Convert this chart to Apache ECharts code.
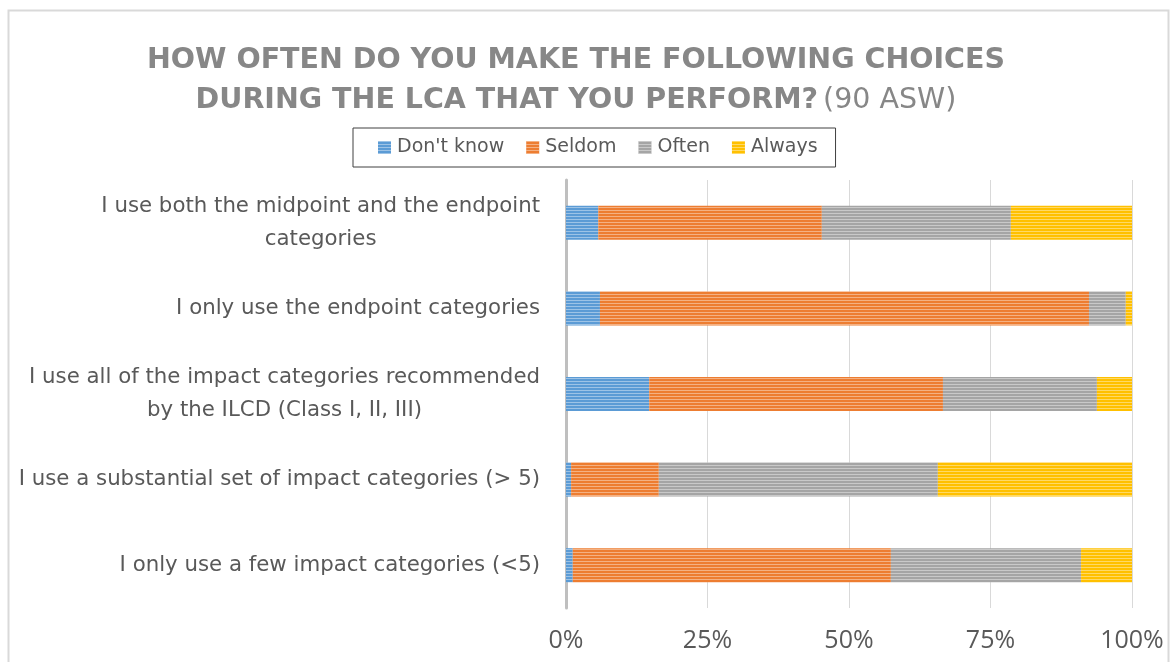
<!DOCTYPE html>
<html>
<head>
<meta charset="utf-8">
<script src="https://cdn.jsdelivr.net/npm/echarts@6/dist/echarts.min.js"></script>
<style>
  html, body { margin: 0; padding: 0; background: #fff; }
  #chart { width: 1171px; height: 662px; }
</style>
</head>
<body>
<div id="chart"></div>
<script>
// categories, top to bottom
var categories = [
  'I use both the midpoint and the endpoint\ncategories',
  'I only use the endpoint categories',
  'I use all of the impact categories recommended\nby the ILCD (Class I, II, III)',
  'I use a substantial set of impact categories (> 5)',
  'I only use a few impact categories (<5)'
];

// share of answers (%)
var dontKnow = [5.7, 6.0, 14.7, 0.9, 1.2];
var seldom = [39.5, 86.4, 51.9, 15.5, 56.2];
var often = [33.4, 6.5, 27.2, 49.3, 33.6];
var always = [21.4, 1.1, 6.2, 34.3, 9.0];

var seriesNames = ["Don't know", 'Seldom', 'Often', 'Always'];
var colors = ['#5b9bd5', '#ed7d31', '#a5a5a5', '#ffc000'];

var chart = echarts.init(document.getElementById('chart'));

// horizontal stripe look of the bars
var stripes = {
  symbol: 'rect',
  symbolSize: 1,
  color: 'rgba(255,255,255,0.4)',
  dashArrayX: [1, 0],
  dashArrayY: [1, 2]
};

function makeSeries(name, values, color) {
  return {
    name: name,
    type: 'bar',
    stack: 'total',
    barWidth: 34,
    data: values,
    itemStyle: { color: color, decal: stripes },
    emphasis: { disabled: true }
  };
}

chart.setOption({
  backgroundColor: '#fff',
  animation: false,
  color: colors,
  graphic: [{
    type: 'rect',
    shape: { x: 8.5, y: 10.5, width: 1160, height: 700 },
    style: { fill: 'none', stroke: '#d9d9d9', lineWidth: 2 },
    silent: true
  }],
  title: {
    text: '{b|HOW OFTEN DO YOU MAKE THE FOLLOWING CHOICES}\n{b|DURING THE LCA THAT YOU PERFORM?} {n|(90 ASW)}',
    left: 571,
    top: 36,
    textAlign: 'center',
    textStyle: {
      rich: {
        b: { fontFamily: 'DejaVu Sans', fontWeight: 'bold', fontSize: 28.5, color: '#878787', lineHeight: 40, align: 'center' },
        n: { fontFamily: 'DejaVu Sans', fontWeight: 'normal', fontSize: 28.5, color: '#878787', lineHeight: 40, align: 'center' }
      }
    }
  },
  legend: {
    data: seriesNames,
    left: 353,
    top: 128,
    padding: [10, 18, 10, 25],
    borderColor: '#404040',
    borderWidth: 1,
    itemWidth: 13,
    itemHeight: 13,
    itemGap: 22,
    icon: 'rect',
    textStyle: { fontFamily: 'DejaVu Sans', fontSize: 19, color: '#595959', padding: [0, 0, 0, 1] }
  },
  grid: { left: 566, right: 39, top: 180, bottom: 54, containLabel: false },
  xAxis: {
    type: 'value',
    min: 0,
    max: 100,
    interval: 25,
    axisLine: { show: false },
    axisTick: { show: false },
    splitLine: { lineStyle: { color: '#d9d9d9', width: 1 } },
    axisLabel: {
      formatter: '{value}%',
      margin: 20,
      fontFamily: 'Open Sans',
      fontSize: 25,
      color: '#595959'
    }
  },
  yAxis: {
    type: 'category',
    inverse: true,
    data: categories,
    axisLine: { lineStyle: { color: '#bfbfbf', width: 3 } },
    axisTick: { show: false },
    axisLabel: {
      margin: 26,
      formatter: function (v) {
        return v.split('\n').map(function (s) { return '{c|' + s + '}'; }).join('\n');
      },
      rich: {
        c: { fontFamily: 'DejaVu Sans', fontSize: 21.3, color: '#595959', lineHeight: 33, align: 'center' }
      }
    }
  },
  series: [
    makeSeries(seriesNames[0], dontKnow, colors[0]),
    makeSeries(seriesNames[1], seldom, colors[1]),
    makeSeries(seriesNames[2], often, colors[2]),
    makeSeries(seriesNames[3], always, colors[3])
  ]
});
</script>
</body>
</html>
